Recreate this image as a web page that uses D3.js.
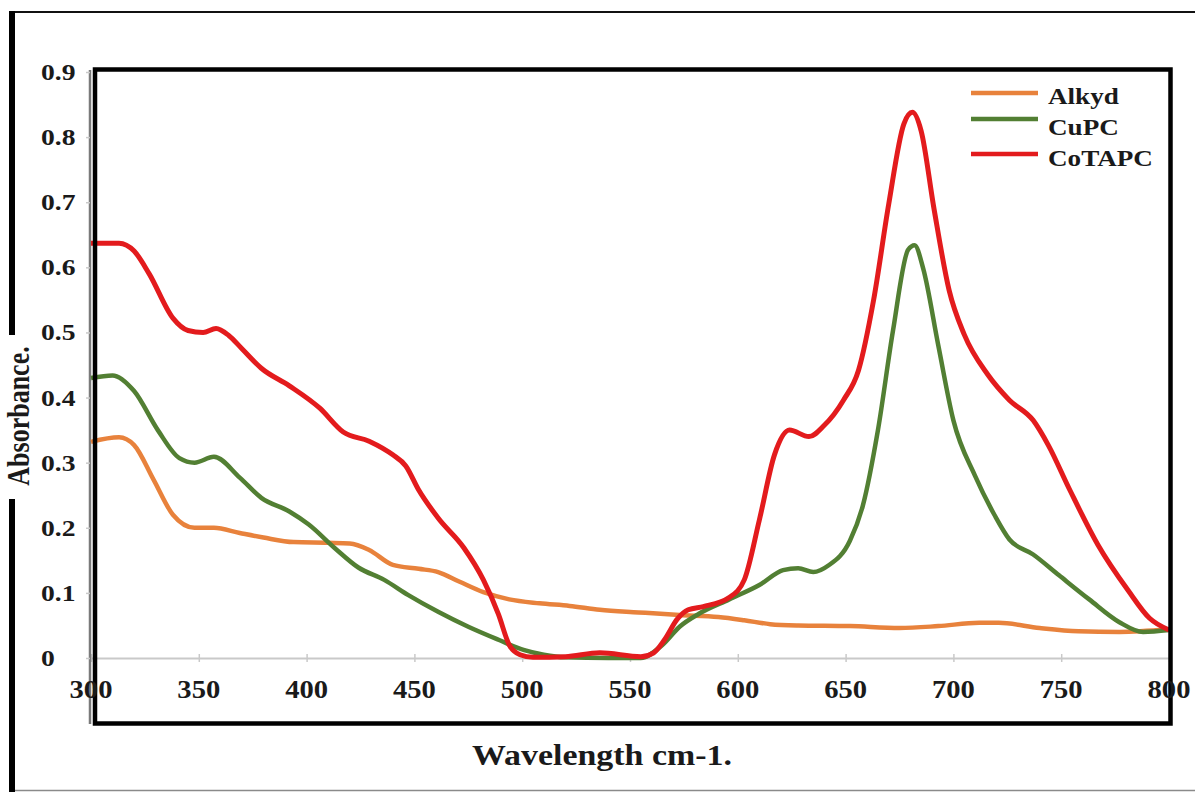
<!DOCTYPE html>
<html>
<head>
<meta charset="utf-8">
<script src="https://cdn.jsdelivr.net/npm/d3@7"></script>
<style>
  html, body { margin: 0; padding: 0; background: #fff; }
  svg { display: block; }
  text { font-family: "Liberation Serif", "Times New Roman", serif; font-weight: bold; fill: #1a1a1a; }
</style>
</head>
<body>
<svg id="chart" width="1195" height="792"></svg>
<script>
// UV-Vis absorbance spectra of the three coatings
const xTicks = [300, 350, 400, 450, 500, 550, 600, 650, 700, 750, 800];
const yTicks = [0, 0.1, 0.2, 0.3, 0.4, 0.5, 0.6, 0.7, 0.8, 0.9];
const yTickLabels = ["0", "0.1", "0.2", "0.3", "0.4", "0.5", "0.6", "0.7", "0.8", "0.9"];

const seriesNames = ["Alkyd", "CuPC", "CoTAPC"];

const alkydWl  = [300, 313, 320, 329, 338, 348, 357, 369, 380, 394, 410, 420, 429, 440, 452, 461, 471, 482, 494, 508, 522, 536, 554, 573, 591, 603, 615, 628, 652, 675, 693, 712, 721, 740, 758, 777, 800];
const alkydAbs = [0.332, 0.339, 0.327, 0.274, 0.220, 0.200, 0.200, 0.192, 0.185, 0.178, 0.177, 0.176, 0.166, 0.143, 0.137, 0.132, 0.117, 0.101, 0.090, 0.084, 0.080, 0.074, 0.070, 0.066, 0.063, 0.058, 0.052, 0.050, 0.049, 0.046, 0.049, 0.054, 0.054, 0.046, 0.041, 0.040, 0.044];

const cupcWl  = [300, 310, 320, 331, 341, 348, 357, 369, 379, 392, 401, 413, 424, 436, 447, 461, 475, 489, 501, 510, 520, 540, 555, 565, 573, 582, 596, 610, 621, 628, 635, 642, 652, 658, 665, 672, 679, 682, 686, 693, 700, 710, 719, 726, 737, 749, 763, 777, 788, 800];
const cupcAbs = [0.430, 0.434, 0.410, 0.350, 0.307, 0.300, 0.309, 0.277, 0.246, 0.225, 0.205, 0.169, 0.139, 0.120, 0.097, 0.071, 0.048, 0.028, 0.012, 0.005, 0.001, 0.000, 0.000, 0.020, 0.048, 0.068, 0.090, 0.112, 0.135, 0.138, 0.132, 0.142, 0.180, 0.234, 0.350, 0.503, 0.627, 0.634, 0.598, 0.480, 0.365, 0.280, 0.220, 0.182, 0.159, 0.127, 0.090, 0.055, 0.040, 0.043];

const cotapcWl  = [300, 313, 320, 327, 338, 345, 352, 358, 364, 370, 379, 392, 406, 417, 429, 440, 446, 452, 461, 473, 482, 489, 494, 499, 505, 520, 536, 555, 561, 566, 572, 577, 584, 596, 603, 610, 617, 624, 633, 640, 649, 656, 663, 670, 677, 681, 685, 691, 698, 705, 716, 726, 737, 744, 754, 767, 781, 791, 800];
const cotapcAbs = [0.637, 0.637, 0.625, 0.590, 0.522, 0.503, 0.500, 0.506, 0.495, 0.475, 0.445, 0.418, 0.384, 0.347, 0.333, 0.312, 0.295, 0.258, 0.215, 0.169, 0.120, 0.067, 0.020, 0.005, 0.001, 0.002, 0.008, 0.002, 0.008, 0.028, 0.060, 0.074, 0.079, 0.093, 0.120, 0.212, 0.312, 0.350, 0.340, 0.357, 0.396, 0.442, 0.550, 0.697, 0.820, 0.838, 0.810, 0.690, 0.565, 0.497, 0.435, 0.396, 0.365, 0.327, 0.258, 0.174, 0.104, 0.061, 0.043];

const seriesColors = ["#E8823C", "#527F33", "#E31B1D"];

const svg = d3.select("#chart");
const W = 1195, H = 792;

// stretch text horizontally a little (wide serif look)
function widen(sel, f) {
  sel.each(function () {
    const len = this.getComputedTextLength();
    d3.select(this).attr("textLength", len * f).attr("lengthAdjust", "spacingAndGlyphs");
  });
}

// outer page frame
svg.append("line").attr("x1", 10).attr("x2", W).attr("y1", 12).attr("y2", 12)
  .attr("stroke", "#111").attr("stroke-width", 2);
svg.append("line").attr("x1", 10).attr("x2", W).attr("y1", 790.5).attr("y2", 790.5)
  .attr("stroke", "#8a8a8a").attr("stroke-width", 1.5);
svg.append("line").attr("x1", 12).attr("x2", 12).attr("y1", 11).attr("y2", 335)
  .attr("stroke", "#000").attr("stroke-width", 6);
svg.append("line").attr("x1", 12).attr("x2", 12).attr("y1", 499).attr("y2", 792)
  .attr("stroke", "#000").attr("stroke-width", 6);

// scales
const x = d3.scaleLinear().domain([300, 800]).range([91, 1169]);
const y = d3.scaleLinear().domain([0, 0.9]).range([658, 72]);

// horizontal zero axis (light grey) with ticks
const xAxis = svg.append("g").attr("transform", `translate(0,${y(0)})`)
  .call(d3.axisBottom(x).tickValues(xTicks).tickSize(0).tickFormat(""));
xAxis.select(".domain").attr("stroke", "#c9c9c9").attr("stroke-width", 2);
xAxis.selectAll(".tick").append("line").attr("y1", -4).attr("y2", 4)
  .attr("stroke", "#c9c9c9").attr("stroke-width", 1.5);

// vertical axis line (grey) with small ticks
const yAxis = svg.append("g").attr("transform", "translate(90,0)")
  .call(d3.axisLeft(y).tickValues(yTicks).tickSize(4).tickFormat(""));
yAxis.select(".domain").attr("stroke", "#7a7a7a").attr("stroke-width", 2.5)
  .attr("d", `M0,70V724`);
yAxis.selectAll(".tick line").attr("stroke", "#c9c9c9").attr("stroke-width", 1.5);

// curves
const line = d3.line().curve(d3.curveMonotoneX)
  .x(d => x(d[0])).y(d => y(d[1]));
const seriesData = [
  d3.zip(alkydWl, alkydAbs),
  d3.zip(cupcWl, cupcAbs),
  d3.zip(cotapcWl, cotapcAbs)
];
seriesData.forEach((pts, i) => {
  svg.append("path").datum(pts)
    .attr("d", line)
    .attr("fill", "none")
    .attr("stroke", seriesColors[i])
    .attr("stroke-width", i === 2 ? 5 : 4.5)
    .attr("stroke-linejoin", "round");
});

// plot frame
svg.append("rect").attr("x", 95).attr("y", 69.5).attr("width", 1170.5 - 95).attr("height", 723.5 - 69.5)
  .attr("fill", "none").attr("stroke", "#000").attr("stroke-width", 4.5);

// y tick labels
const yl = svg.append("g").selectAll("text").data(yTicks).join("text")
  .attr("x", 41).attr("y", d => y(d) + 8)
  .attr("font-size", 23)
  .text((d, i) => yTickLabels[i]);
widen(yl, 1.2);

// x tick labels
const xl = svg.append("g").selectAll("text").data(xTicks).join("text")
  .attr("x", d => x(d)).attr("y", 698)
  .attr("text-anchor", "middle")
  .attr("font-size", 26)
  .text(d => d);
widen(xl, 1.1);

// axis titles
const xt = svg.append("text").attr("x", 602).attr("y", 765)
  .attr("text-anchor", "middle").attr("font-size", 30)
  .text("Wavelength cm-1.");
widen(xt, 1.13);

svg.append("text")
  .attr("transform", "translate(29,416) scale(1.2,1) rotate(-90)")
  .attr("text-anchor", "middle").attr("font-size", 26)
  .text("Absorbance.");

// legend
const legendY = [93, 119, 154];
const legendTextY = [104, 135, 166];
const lg = svg.append("g");
seriesNames.forEach((name, i) => {
  lg.append("line").attr("x1", 971).attr("x2", 1038)
    .attr("y1", legendY[i]).attr("y2", legendY[i])
    .attr("stroke", seriesColors[i]).attr("stroke-width", 4.5);
  const t = lg.append("text").attr("x", 1048).attr("y", legendTextY[i])
    .attr("font-size", 24).text(name);
  widen(t, 1.13);
});
</script>
</body>
</html>
